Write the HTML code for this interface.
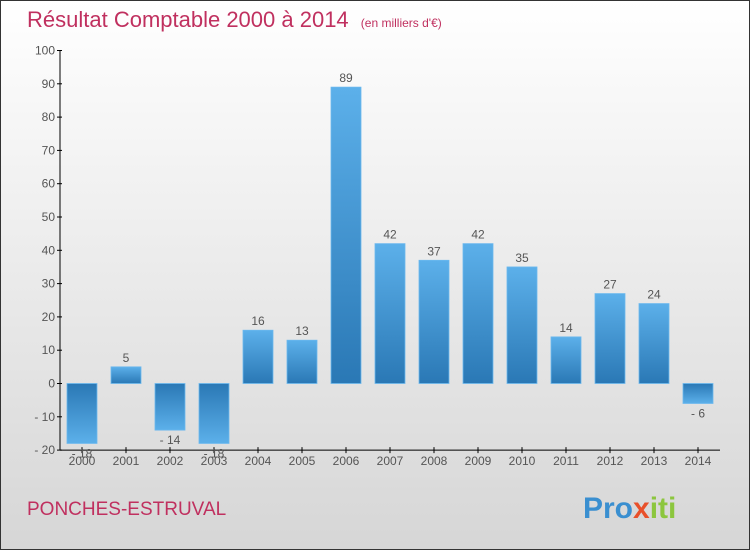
<!DOCTYPE html>
<html><head><meta charset="utf-8"><style>
body{margin:0;width:750px;height:550px;overflow:hidden;font-family:"Liberation Sans",sans-serif}
</style></head><body>
<svg width="750" height="550" xmlns="http://www.w3.org/2000/svg">
<defs>
<linearGradient id="bg" x1="0" y1="0" x2="0" y2="1"><stop offset="0" stop-color="#ffffff"/><stop offset="1" stop-color="#d6d6d6"/></linearGradient>
<linearGradient id="gp" x1="0" y1="0" x2="0" y2="1"><stop offset="0" stop-color="#5cb0ea"/><stop offset="1" stop-color="#2a78b5"/></linearGradient>
<linearGradient id="gn" x1="0" y1="0" x2="0" y2="1"><stop offset="0" stop-color="#2a78b5"/><stop offset="1" stop-color="#5cb0ea"/></linearGradient>
</defs>
<rect x="0.5" y="0.5" width="749" height="549" fill="url(#bg)" stroke="#333"/>
<text x="27" y="27" font-size="22" fill="#c0305f">Résultat Comptable 2000 à 2014 <tspan font-size="12" dx="6">(en milliers d'€)</tspan></text>
<g id="axes"></g><g id="bars"></g>
<text x="27" y="515" font-size="19" fill="#c0305f">PONCHES-ESTRUVAL</text>
<text x="583" y="518" font-size="30" font-weight="bold" fill="#3a8fd0">Pro<tspan fill="#e8502a">x</tspan><tspan fill="#8cc63e">iti</tspan></text>
</svg>
<script>
const years=["2000","2001","2002","2003","2004","2005","2006","2007","2008","2009","2010","2011","2012","2013","2014"];
const values=[-18,5,-14,-18,16,13,89,42,37,42,35,14,27,24,-6];
const yTicks=[-20,-10,0,10,20,30,40,50,60,70,80,90,100];
const NS="http://www.w3.org/2000/svg";
const y=v=>383.5-v*3.33;
const x=i=>82+i*44;
function mk(t,a,p,txt){const e=document.createElementNS(NS,t);for(const k in a)e.setAttribute(k,a[k]);if(txt!==undefined)e.textContent=txt;p.appendChild(e);return e;}
const ax=document.getElementById('axes'),bs=document.getElementById('bars');
let l=mk('line',{x1:60,y1:y(100),x2:60,y2:y(-20),stroke:'#000'},ax);

l=mk('line',{x1:60,y1:y(-20),x2:720,y2:y(-20),stroke:'#000'},ax);

yTicks.forEach(t=>{mk('line',{x1:57,y1:y(t),x2:62,y2:y(t),stroke:'#000'},ax);
const e=mk('text',{x:55,y:y(t)+4,'font-size':12,fill:'#555','text-anchor':'end'},ax,t<0?'- '+(-t):t);
});
years.forEach((yr,i)=>{mk('line',{x1:x(i),y1:y(-20)-3,x2:x(i),y2:y(-20)+3,stroke:'#000'},ax);
const e=mk('text',{x:x(i),y:465,'font-size':12,fill:'#555','text-anchor':'middle'},ax,yr);

const v=values[i],top=Math.min(y(v),y(0)),h=Math.abs(y(v)-y(0));
const r=mk('rect',{x:x(i)-15,y:top,width:30,height:h,fill:v>=0?'url(#gp)':'url(#gn)',stroke:'#6bb8ee','stroke-width':0.8},bs);

const t=mk('text',{x:x(i),y:v>=0?y(v)-5:y(v)+14,'font-size':12,fill:'#555','text-anchor':'middle'},bs,v<0?'- '+(-v):v);
});
</script>
</body></html>
